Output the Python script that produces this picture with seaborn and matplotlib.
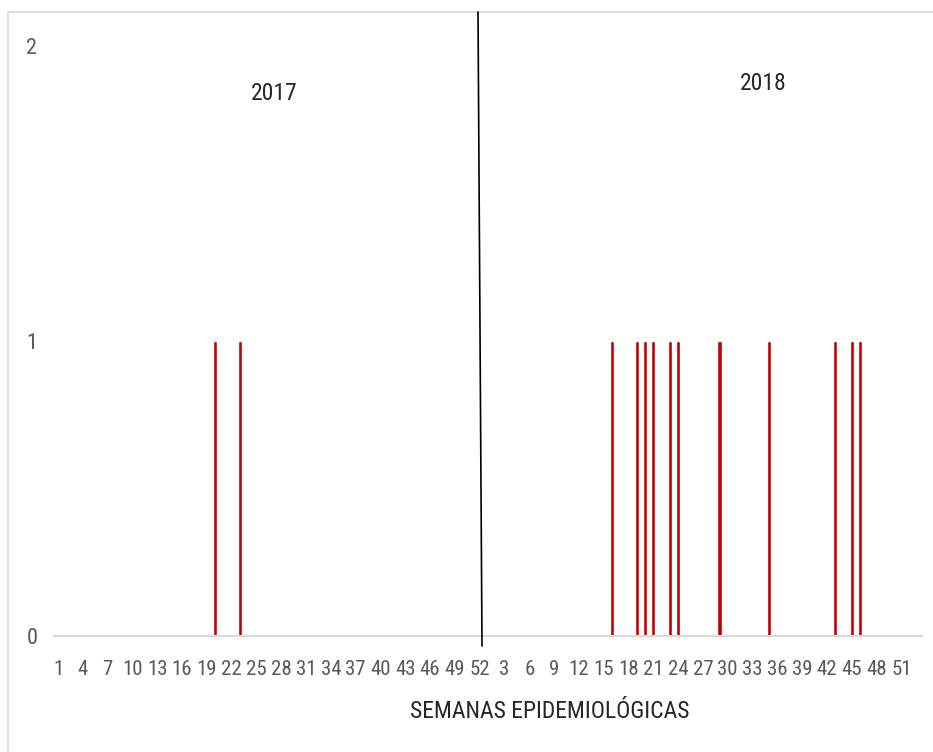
import numpy as np
import pandas as pd
import matplotlib
matplotlib.use("Agg")
import matplotlib.pyplot as plt
from matplotlib import font_manager
from matplotlib.lines import Line2D
from matplotlib.patches import Rectangle
import seaborn as sns

# semanas epidemiologicas por año
weeks_2017 = list(range(1, 53))
weeks_2018 = list(range(1, 53))

# semanas con casos (1 caso cada una)
case_weeks_2017 = [20, 23]
case_weeks_2018 = [16, 19, 20, 21, 23, 24, 29, 35, 43, 45, 46]

year_labels = ["2017", "2018"]
x_title = "SEMANAS EPIDEMIOLÓGICAS"

bar_color = "#C00000"
grid_gray = "#D9D9D9"
text_gray = "#595959"

# build table
rows = []
for w in weeks_2017:
    rows.append({"year": 2017, "week": w, "cases": 1 if w in case_weeks_2017 else 0})
for w in weeks_2018:
    rows.append({"year": 2018, "week": w, "cases": 1 if w in case_weeks_2018 else 0})
df = pd.DataFrame(rows)
df["pos"] = np.arange(len(df))

# pick a narrow font if there is one
fonts = font_manager.fontManager.ttflist
names = {f.name for f in fonts}
family, stretch, scale = "DejaVu Sans", "normal", 0.85
for cand in ["Liberation Sans Narrow", "Roboto Condensed", "Open Sans Condensed", "Arial Narrow"]:
    if cand in names:
        family, stretch, scale = cand, "normal", 1.0
        break
else:
    if any(f.name == "DejaVu Sans" and f.stretch not in ("normal", 500) for f in fonts):
        family, stretch, scale = "DejaVu Sans", "condensed", 0.92

sns.set_style("white")
plt.rcParams["font.family"] = [family, "DejaVu Sans"]
plt.rcParams["font.stretch"] = stretch

fig = plt.figure(figsize=(9.33, 7.52), dpi=100)
ax = fig.add_axes([54 / 933, 1 - 636 / 752, (922 - 54) / 933, (636 - 46) / 752])

sns.barplot(data=df, x="pos", y="cases", color=bar_color, width=0.5,
            saturation=1, ax=ax, errorbar=None)

ax.set_xlim(-0.5, len(df) + 0.5)
ax.set_ylim(0, 2)

tick_pos = df["pos"].values[::3]
tick_lab = df["week"].astype(str).values[::3]
ax.set_xticks(tick_pos)
ax.set_xticklabels(tick_lab, fontsize=15 * scale, color=text_gray, fontstretch=stretch)
ax.set_yticks([0, 1, 2])
ax.set_yticklabels(["0", "1", "2"], fontsize=16 * scale, color=text_gray, fontstretch=stretch)
ax.tick_params(axis="x", length=0, pad=17)
ax.tick_params(axis="y", length=0, pad=12)

ax.set_xlabel("")
ax.set_ylabel("")
fig.text(550 / 933, 1 - 712 / 752, x_title, fontsize=17 * scale, ha="center",
         va="center", fontstretch=stretch)

for s in ["top", "right", "left"]:
    ax.spines[s].set_visible(False)
ax.spines["bottom"].set_color(grid_gray)
ax.spines["bottom"].set_linewidth(1.5)

# year labels
fig.text(274 / 933, 1 - 93 / 752, year_labels[0], fontsize=17 * scale, ha="center",
         va="center", fontstretch=stretch)
fig.text(763 / 933, 1 - 84 / 752, year_labels[1], fontsize=17 * scale, ha="center",
         va="center", fontstretch=stretch)

# separator line between years
fig.add_artist(Line2D([478 / 933, 482 / 933], [1 - 12 / 752, 1 - 646 / 752],
                      color="black", lw=1.2, transform=fig.transFigure))

# chart area border
fig.add_artist(Rectangle((8 / 933, -0.01), 1.0, 1 - 12 / 752 + 0.01,
                         fill=False, edgecolor=grid_gray, lw=1.2,
                         transform=fig.transFigure))

fig.savefig("out.png", dpi=100, facecolor="white")
